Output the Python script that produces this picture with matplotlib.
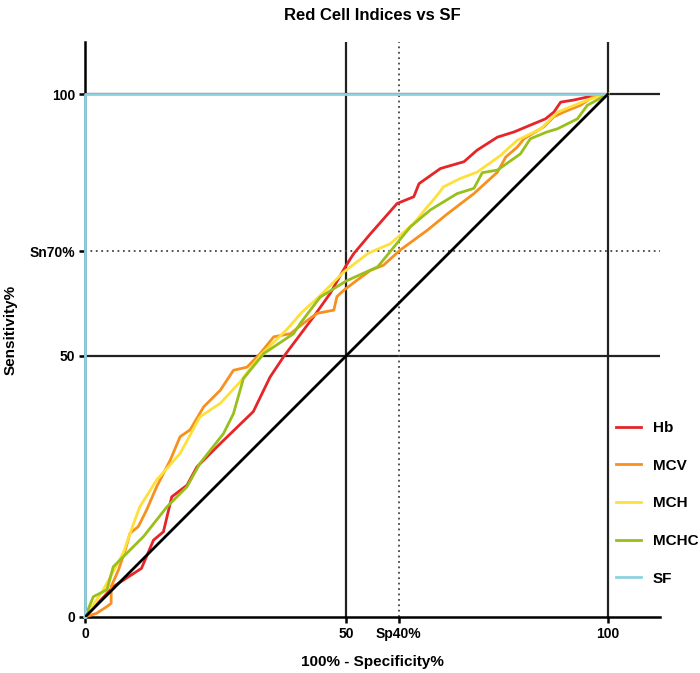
import matplotlib
matplotlib.use("Agg")
import matplotlib.pyplot as plt

plt.rcParams['font.family'] = ['Liberation Sans', 'DejaVu Sans']
plt.rcParams['font.weight'] = 'bold'

# ROC points (100% - specificity, sensitivity)
hb_x = [0, 5.4, 10.8, 13.1, 15, 16.6, 19.5, 21.4, 25.9, 32.2, 35.4, 38, 43.7, 46.9, 49.8, 51.4,
        54.6, 59.7, 62.9, 63.9, 68, 72.5, 75, 78.9, 82.1, 85.2, 88.1, 89.7, 91, 93.5, 96.7, 100]
hb_y = [0, 5.8, 9.3, 14.7, 16.3, 23, 25.2, 28.7, 33.2, 39.3, 45.9, 49.8, 57.4, 61.9, 67, 69.5,
        73.3, 79.1, 80.4, 82.9, 85.8, 87.1, 89.3, 91.8, 92.8, 94.1, 95.3, 96.6, 98.5, 98.9, 99.6, 100]

mcv_x = [0, 2.2, 4.2, 5.0, 5.0, 6.4, 7.7, 8.6, 10.2, 11.8, 13.7, 16.3, 18.2, 20.1, 22.7, 25.9, 28.4,
         31, 33.5, 36.1, 39.3, 41.8, 44.4, 47.6, 48.2, 49.5, 52, 54.6, 57.1, 60.3, 65.5, 69.3, 74.4,
         78.9, 80.5, 82.7, 84, 87.8, 89.7, 91.6, 94.8, 97.3, 100]
mcv_y = [0, 0.7, 2, 2.6, 5.8, 9, 12.8, 16, 17.3, 20.5, 24.9, 30, 34.5, 35.8, 40.2, 43.4, 47.2,
         47.8, 50.4, 53.6, 54.2, 56.2, 58.1, 58.7, 61.3, 62.5, 64.4, 66.3, 67.3, 70.2, 74, 77.1, 81,
         85.1, 88, 89.9, 91.5, 93.8, 95.7, 96.6, 97.9, 99.6, 100]

mch_x = [0, 3.5, 7.3, 9.3, 10.5, 13.7, 18.2, 22, 25.9, 29.7, 33.5, 38.6, 41.5, 45, 49.5, 54.2,
         58.4, 62.9, 65.5, 67.4, 68.6, 71.8, 75, 79.5, 82.7, 87.2, 90.4, 92.9, 96.7, 100]
mch_y = [0, 5.2, 12.2, 17.9, 21.1, 26.2, 31.3, 38.3, 40.9, 45, 50, 55, 58.3, 61.5, 66, 69.6,
         71.4, 75.3, 78.5, 80.7, 82.3, 83.9, 85.1, 88.3, 91.2, 93.4, 96.6, 97.6, 99.1, 100]

mchc_x = [0, 1.6, 4.2, 5.4, 8.6, 11.2, 15.7, 19.5, 22, 26.5, 28.4, 30.3, 34.2, 39.9, 41.2, 45, 50,
          56, 62.3, 66.1, 71.2, 74.4, 76, 78.9, 83.3, 85.2, 88.4, 90.4, 94.2, 96.1, 100]
mchc_y = [0, 3.9, 5.2, 9.6, 12.8, 15.4, 21.1, 24.9, 29.4, 35.1, 38.9, 45.6, 50.4, 54.2, 56.2, 61.2,
          64.3, 67, 74.7, 77.9, 81, 82, 85, 85.5, 88.6, 91.5, 92.8, 93.4, 95.3, 97.9, 100]

sf_x = [0, 0, 100]
sf_y = [0, 100, 100]

series = [("Hb", hb_x, hb_y, "#e52528"),
          ("MCV", mcv_x, mcv_y, "#f7901e"),
          ("MCH", mch_x, mch_y, "#fde03a"),
          ("MCHC", mchc_x, mchc_y, "#99bf1a"),
          ("SF", sf_x, sf_y, "#8fd2e2")]

x_ticks = [0, 50, 60, 100]
x_labels = ["0", "50", "Sp40%", "100"]
y_ticks = [0, 50, 70, 100]
y_labels = ["0", "50", "Sn70%", "100"]

fig = plt.figure(figsize=(7, 6.73), dpi=100)
ax = fig.add_axes([85 / 700, 1 - 617 / 673, 575 / 700, 575 / 673])

# reference lines
for v in [50, 100]:
    ax.axvline(v, color="#222222", lw=1.6, zorder=1)
    ax.axhline(v, color="#222222", lw=1.6, zorder=1)
ax.axvline(60, color="#444444", lw=1.3, ls=(0, (1, 2)), zorder=1)
ax.axhline(70, color="#444444", lw=1.3, ls=(0, (1, 2)), zorder=1)

for name, xs, ys, c in series:
    ax.plot(xs, ys, color=c, lw=2.0, label=name, clip_on=False, zorder=3)

ax.plot([0, 100], [0, 100], color="black", lw=2.0, zorder=4)

ax.set_xlim(0, 110)
ax.set_ylim(0, 110)
ax.spines['top'].set_visible(False)
ax.spines['right'].set_visible(False)
ax.spines['left'].set_linewidth(1.8)
ax.spines['bottom'].set_linewidth(1.8)
ax.set_xticks(x_ticks)
ax.set_xticklabels(x_labels)
ax.set_yticks(y_ticks)
ax.set_yticklabels(y_labels)
ax.tick_params(direction="out", length=4, width=1.8, labelsize=10, pad=3)

ax.set_title("Red Cell Indices vs SF", fontsize=12, fontweight="bold", pad=16)
ax.set_xlabel("100% - Specificity%", fontsize=11, fontweight="bold", labelpad=10)
ax.set_ylabel("Sensitivity%", fontsize=11, fontweight="bold", labelpad=9)

ax.legend(loc="upper left", bbox_to_anchor=(0.9, 0.365), frameon=False, fontsize=11,
          handlelength=1.6, labelspacing=1.55, handletextpad=0.8)

fig.savefig("out.png", dpi=100)
